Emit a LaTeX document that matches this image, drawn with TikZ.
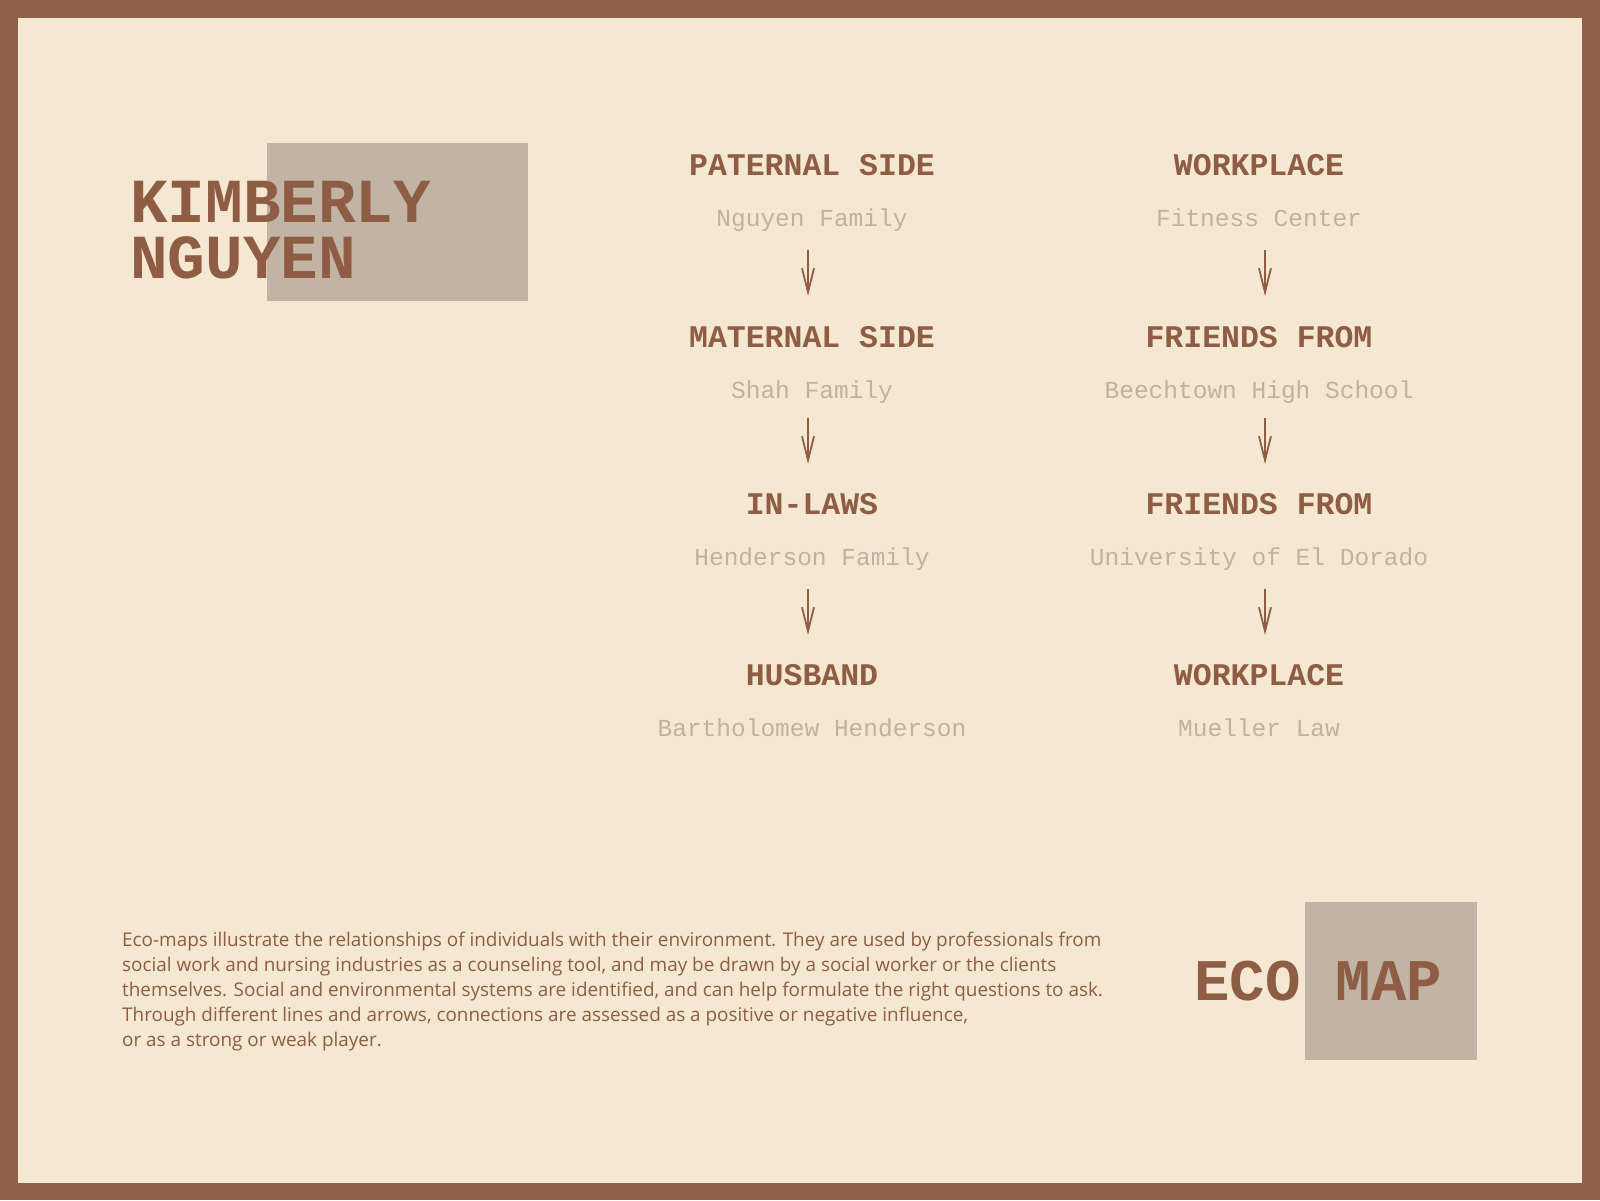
\documentclass[tikz,border=0pt]{standalone}
\usepackage{fontspec}
\setmainfont{Open Sans}
\newfontfamily\typew{Liberation Mono}
\usetikzlibrary{arrows.meta}
\definecolor{frame}{HTML}{8F6148}
\definecolor{paper}{HTML}{F5E8D3}
\definecolor{boxgray}{HTML}{C1B4A4}
\definecolor{head}{HTML}{8E5D44}
\definecolor{subt}{HTML}{BFB2A2}
\tikzset{
  heading/.style={anchor=base, inner sep=0pt, text=head, font=\typew\bfseries\fontsize{31.5}{32}\selectfont},
  subtitle/.style={anchor=base, inner sep=0pt, text=subt, font=\typew\fontsize{24.5}{25}\selectfont},
  bigtitle/.style={anchor=base west, inner sep=0pt, text=head, align=left},
  flow/.style={draw=head, line width=1.8pt, -{Straight Barb[length=24pt,width=12pt,line width=1.8pt]}},
}
\begin{document}
\begin{tikzpicture}[x=1pt,y=-1pt]
\useasboundingbox (0,0) rectangle (1600,1200);
\fill[frame] (0,0) rectangle (1600,1200);
\fill[paper] (18,18) rectangle (1582,1183);
% gray boxes
\fill[boxgray] (267,143) rectangle (528,301);
\fill[boxgray] (1305,902) rectangle (1477,1060);
% big titles
\node[bigtitle, font=\typew\bfseries\fontsize{62.7}{56}\selectfont] (k1) at (130,222.5) {KIMBERLY};
\node[bigtitle, font=\typew\bfseries\fontsize{62.7}{56}\selectfont] (k2) at (130,278.6) {NGUYEN};
\node[bigtitle, font=\typew\bfseries\fontsize{59}{59}\selectfont] (eco) at (1194,1000) {ECO MAP};
% left column
\node[heading] (h1) at (812,175.5) {PATERNAL SIDE};
\node[subtitle] (s1) at (812,226.5) {Nguyen Family};
\node[heading] (h2) at (812,347) {MATERNAL SIDE};
\node[subtitle] (s2) at (812,398) {Shah Family};
\node[heading] (h3) at (812,514) {IN-LAWS};
\node[subtitle] (s3) at (812,565) {Henderson Family};
\node[heading] (h4) at (812,685) {HUSBAND};
\node[subtitle] (s4) at (812,736) {Bartholomew Henderson};
% right column
\node[heading] (r1) at (1259,175.5) {WORKPLACE};
\node[subtitle] (t1) at (1259,226.5) {Fitness Center};
\node[heading] (r2) at (1259,347) {FRIENDS FROM};
\node[subtitle] (t2) at (1259,398) {Beechtown High School};
\node[heading] (r3) at (1259,514) {FRIENDS FROM};
\node[subtitle] (t3) at (1259,565) {University of El Dorado};
\node[heading] (r4) at (1259,685) {WORKPLACE};
\node[subtitle] (t4) at (1259,736) {Mueller Law};
% arrow end points
\coordinate (la1) at (808,250); \coordinate (lb1) at (808,296);
\coordinate (la2) at (808,418); \coordinate (lb2) at (808,464);
\coordinate (la3) at (808,589); \coordinate (lb3) at (808,635);
\coordinate (ra1) at (1265,250); \coordinate (rb1) at (1265,296);
\coordinate (ra2) at (1265,418); \coordinate (rb2) at (1265,464);
\coordinate (ra3) at (1265,589); \coordinate (rb3) at (1265,635);
\draw[flow] (la1) -- (lb1);
\draw[flow] (la2) -- (lb2);
\draw[flow] (la3) -- (lb3);
\draw[flow] (ra1) -- (rb1);
\draw[flow] (ra2) -- (rb2);
\draw[flow] (ra3) -- (rb3);
% body text
\node[anchor=base west, inner sep=0pt, align=left, text=head, font=\fontsize{18.9}{25}\selectfont] (body) at (122,1046)
{Eco-maps illustrate the relationships of individuals with their environment. They are used by professionals from\\
social work and nursing industries as a counseling tool, and may be drawn by a social worker or the clients\\
themselves. Social and environmental systems are identified, and can help formulate the right questions to ask.\\
Through different lines and arrows, connections are assessed as a positive or negative influence,\\
or as a strong or weak player.};
\end{tikzpicture}
\end{document}
